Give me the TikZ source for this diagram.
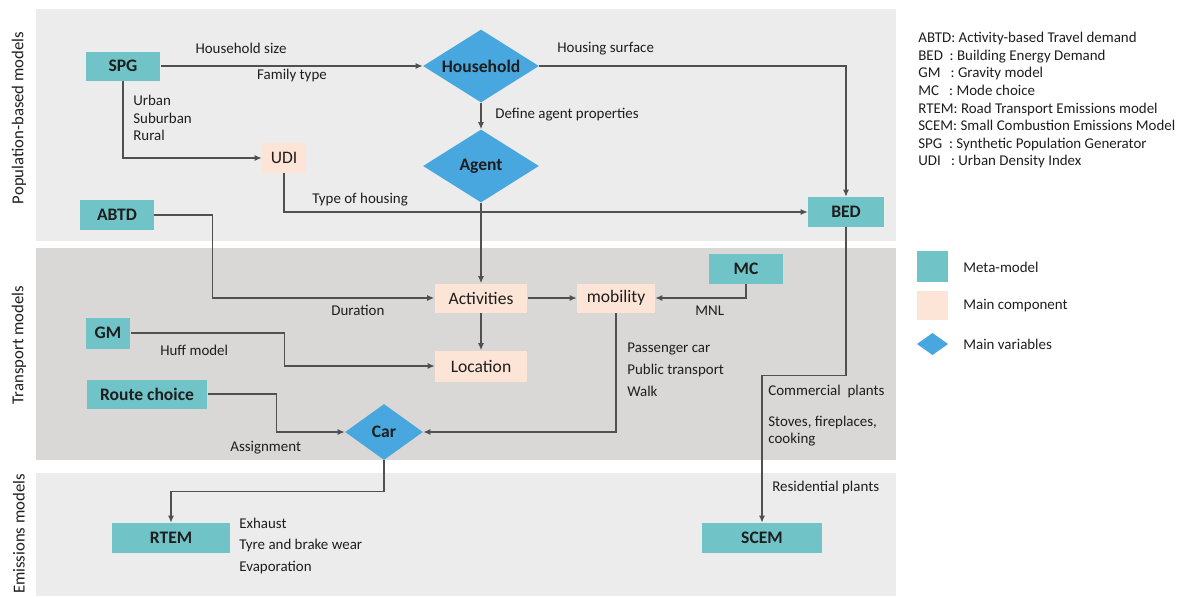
\documentclass[tikz,border=0pt]{standalone}
\usepackage{fontspec}
\setmainfont{Carlito}
\usetikzlibrary{shapes.geometric,arrows.meta}

\definecolor{bandlight}{RGB}{236,236,236}
\definecolor{banddark}{RGB}{218,215,215}
\definecolor{metateal}{RGB}{112,196,200}
\definecolor{comppeach}{RGB}{252,228,214}
\definecolor{varblue}{RGB}{72,167,222}
\definecolor{linegray}{RGB}{80,80,80}
\definecolor{txt}{RGB}{30,30,30}

\begin{document}
\begin{tikzpicture}[x = 0.02cm, y = -0.02cm,
	meta/.style = {fill=metateal, text=txt, inner sep=0pt, font=\bfseries\fontsize{10}{12}\selectfont},
	comp/.style = {fill=comppeach, text=txt, inner sep=0pt, font=\fontsize{10}{12}\selectfont},
	var/.style = {diamond, fill=varblue, text=txt, inner sep=0pt, aspect=1.6, font=\bfseries\fontsize{10}{12}\selectfont},
	lbl/.style = {text=txt, inner sep=0pt, align=left, font=\fontsize{8.5}{10}\selectfont},
	side/.style = {text=txt, inner sep=0pt, rotate=90, font=\fontsize{9.5}{11}\selectfont},
	arr/.style = {draw=linegray, line width=0.7pt, -{Latex[length=4pt,width=3.5pt]}}]
	\useasboundingbox (0,0) rectangle (1189,596);
	
	% bands
	\fill[bandlight] (36,9) rectangle (896,241);
	\fill[banddark] (36,248) rectangle (896,460);
	\fill[bandlight] (36,473) rectangle (896,596);
	
	\node[side] (popname) at (19,118) {Population-based models};
	\node[side] (traname) at (19,345) {Transport models};
	\node[side] (eminame) at (19,534) {Emissions models};
	
	% population-based models
	\node[meta, minimum width=1.5cm, minimum height=0.58cm] (spg) at (123,66) {SPG};
	\node[var, minimum width=2.32cm, minimum height=1.46cm] (hh) at (481,66) {Household};
	\node[var, minimum width=2.32cm, minimum height=1.46cm] (agent) at (481,166) {Agent};
	\node[comp, minimum width=0.88cm, minimum height=0.6cm] (udi) at (284,158) {UDI};
	\node[meta, minimum width=1.52cm, minimum height=0.6cm] (bed) at (846,212) {BED};
	\node[meta, minimum width=1.48cm, minimum height=0.6cm] (abtd) at (117,215) {ABTD};
	
	% transport models
	\node[comp, minimum width=1.86cm, minimum height=0.58cm] (act) at (481,298) {Activities};
	\node[comp, minimum width=1.56cm, minimum height=0.58cm] (mob) at (616,298) {mobility};
	\node[meta, minimum width=1.48cm, minimum height=0.6cm] (mc) at (746,269) {MC};
	\node[comp, minimum width=1.84cm, minimum height=0.62cm] (loc) at (481,366) {Location};
	\node[meta, minimum width=0.9cm, minimum height=0.62cm] (gm) at (108,333) {GM};
	\node[meta, minimum width=2.42cm, minimum height=0.58cm] (route) at (147,394) {Route choice};
	\node[var, aspect=1.4, minimum width=1.56cm, minimum height=1.12cm] (car) at (384,432) {Car};
	
	% emissions models
	\node[meta, minimum width=2.38cm, minimum height=0.6cm] (rtem) at (171,538) {RTEM};
	\node[meta, minimum width=2.4cm, minimum height=0.6cm] (scem) at (762,538) {SCEM};
	
	% links
	\draw[arr] (spg.east) -- (hh.west);
	\draw[arr] (spg.south) |- (udi.west);
	\draw[arr] (hh.east) -| (bed.north);
	\draw[arr] (hh.south) -- (agent.north);
	\draw[arr] (udi.south) |- (bed.west);
	\draw[arr] (agent.south) -- (act.north);
	\draw[arr] (abtd.east) -- ++(58,0) |- (act.west);
	\draw[arr] (act.east) -- (mob.west);
	\draw[arr] (act.south) -- (loc.north);
	\draw[arr] (mc.south) |- (mob.east);
	\draw[arr] (gm.east) -- ++(153.5,0) |- (loc.west);
	\draw[arr] (route.east) -- ++(68.5,0) |- (car.west);
	\draw[arr] (mob.south) |- (car.east);
	\draw[arr] (bed.south) -- ++(0,148) -| (scem.north);
	\draw[arr] (car.south) -- ++(0,31) -| (rtem.north);
	
	% labels
	\node[lbl] (hsize) at (241,48) {Household size};
	\node[lbl] (ftype) at (292,76) {Family type};
	\node[lbl, anchor=west] (usr) at (133,118) {Urban\\Suburban\\Rural};
	\node[lbl, anchor=west] (hsurf) at (557,49) {Housing surface};
	\node[lbl, anchor=west] (dap) at (495,115) {Define agent properties};
	\node[lbl, anchor=west] (toh) at (312,200) {Type of housing};
	\node[lbl, anchor=west] (dur) at (331,310) {Duration};
	\node[lbl, anchor=west] (mnl) at (695,311) {MNL};
	\node[lbl, anchor=west] (huff) at (160,350) {Huff model};
	\node[lbl, anchor=west] (asg) at (230,448) {Assignment};
	\node[lbl, anchor=west] (modes) at (627,370) {Passenger car\\[2.5pt]Public transport\\[2.5pt]Walk};
	\node[lbl, anchor=west] (comm) at (768,392) {Commercial\ \ plants};
	\node[lbl, anchor=west] (stoves) at (768,431) {Stoves, fireplaces,\\cooking};
	\node[lbl, anchor=west] (resid) at (772,488) {Residential plants};
	\node[lbl, anchor=west] (exh) at (239,546) {Exhaust\\[2pt]Tyre and brake wear\\[2pt]Evaporation};
	
	% legend
	\node[lbl, anchor=north west] (abbr) at (918,32) {ABTD: Activity-based Travel demand\\BED\ \ : Building Energy Demand\\GM\ \ \ : Gravity model\\MC\ \ \ : Mode choice\\RTEM: Road Transport Emissions model\\SCEM: Small Combustion Emissions Model\\SPG\ \ : Synthetic Population Generator\\UDI\ \ \ : Urban Density Index};
	\fill[metateal] (917,251) rectangle (948,282);
	\fill[comppeach] (917,291) rectangle (948,320);
	\fill[varblue] (917,344) -- (932.5,333) -- (948,344) -- (932.5,355) -- cycle;
	\node[lbl, anchor=west] (kmeta) at (963,267) {Meta-model};
	\node[lbl, anchor=west] (kcomp) at (963,306) {Main component};
	\node[lbl, anchor=west] (kvar) at (963,344) {Main variables};
	
\end{tikzpicture}
\end{document}
